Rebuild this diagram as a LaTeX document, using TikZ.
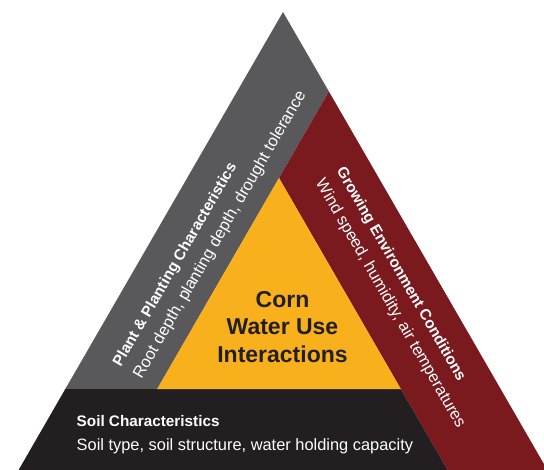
\documentclass[tikz,border=0pt]{standalone}
\usepackage{fontspec}
\setmainfont{Liberation Sans}
\usepackage{tikz}
\definecolor{plantgray}{HTML}{59595B}
\definecolor{growred}{HTML}{7A1A1F}
\definecolor{cornyellow}{HTML}{F8B01C}
\definecolor{soilblack}{HTML}{231F20}
\tikzset{sidetext/.style={text=white, inner sep=0pt, align=left, anchor=west, font=\fontsize{16.4bp}{24bp}\selectfont}}
\newcommand{\headline}[1]{{\fontsize{15.3bp}{24bp}\selectfont\bfseries #1}}

\begin{document}
\begin{tikzpicture}[x=1bp,y=-1bp]

	\useasboundingbox (0,0) rectangle (544,470);
	\clip (0,0) rectangle (544,470);

	\coordinate (apex) at (283,12);
	\coordinate (bl) at (18.6,470);
	\coordinate (br) at (547.4,470);
	\coordinate (Y1) at (279,178); % top of the yellow triangle
	\coordinate (Y2) at (157.2,389);
	\coordinate (Y3) at (400.8,389);
	\coordinate (R1) at (328.9,91.5);
	\coordinate (R2) at (447.6,470);
	\coordinate (S1) at (65.3,389);

	\fill[plantgray] (apex) -- (R1) -- (Y1) -- (Y2) -- (S1) -- cycle;
	\fill[growred] (R1) -- (br) -- (R2) -- (Y1) -- cycle;
	\fill[soilblack] (S1) -- (Y3) -- (R2) -- (bl) -- cycle;
	\fill[cornyellow] (Y1) -- (Y2) -- (Y3) -- cycle;

	\node (soil)[sidetext] at (76.5,435) {\headline{Soil Characteristics}\\Soil type, soil structure, water holding capacity};
	\node (plant)[sidetext, rotate=60] at (127.8,371.6) {\headline{Plant \& Planting Characteristics}\\Root depth, planting depth, drought tolerance};
	\node (grow)[sidetext, rotate=-60] at (329.1,174.7) {\headline{Growing Environment Conditions}\\Wind speed, humidity, air temperatures};

	\node (corn)[text=soilblack, align=center, inner sep=0pt, font=\fontsize{23bp}{27.7bp}\selectfont\bfseries] at (282.5,326.8) {Corn\\Water Use\\Interactions};

\end{tikzpicture}
\end{document}
